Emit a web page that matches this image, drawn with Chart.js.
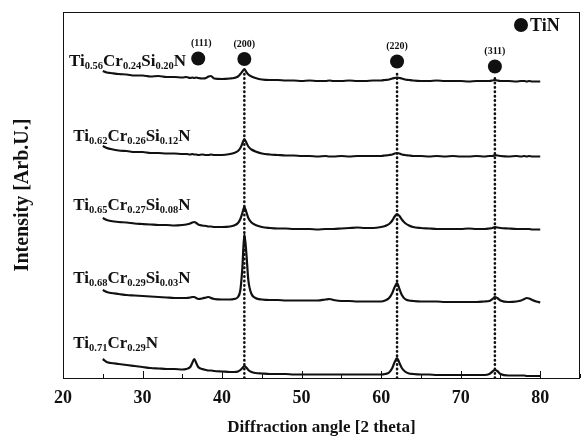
<!DOCTYPE html>
<html>
<head>
<meta charset="utf-8">
<script src="https://cdn.jsdelivr.net/npm/chart.js@4.4.1/dist/chart.umd.min.js"></script>
<style>
  body { margin: 0; background: #fff; }
  #wrap { width: 581px; height: 441px; }
</style>
</head>
<body>
<div id="wrap"><canvas id="xrd" width="581" height="441"></canvas></div>
<script>
// ── Data ───────────────────────────────────────────────────
// 2-theta positions shared by every pattern
const angles = [
  25, 25.5, 26, 27, 28, 29, 30, 31, 32, 33,
  34, 35, 35.5, 36, 36.25, 36.5, 36.75, 37, 37.5, 38,
  38.3, 38.6, 39, 40, 41, 41.5, 42, 42.3, 42.55, 42.8,
  43.05, 43.3, 43.7, 44.2, 45, 46, 47, 48, 49, 50,
  51, 52, 53, 53.5, 54, 55, 56, 57, 58, 59,
  60, 60.5, 61, 61.4, 61.7, 62, 62.3, 62.6, 63, 63.5,
  64, 65, 66, 67, 68, 69, 70, 71, 72, 73,
  73.6, 74, 74.3, 74.6, 75, 76, 77, 77.6, 78, 78.3,
  78.6, 79, 79.5, 80
];

const sampleNames = [
  'Ti0.56Cr0.24Si0.20N',
  'Ti0.62Cr0.26Si0.12N',
  'Ti0.65Cr0.27Si0.08N',
  'Ti0.68Cr0.29Si0.03N',
  'Ti0.71Cr0.29N'
];

// intensities, already stacked (arb. units)
const siO20 = [
  307, 305.5, 305, 304, 303.5, 302.5, 302.5, 301.5, 302, 301,
  301, 300.5, 301, 300, 300.5, 300, 300.5, 300, 299.5, 300,
  301.5, 302, 299.5, 299, 299.5, 300, 301.5, 304, 306.5, 309,
  306, 303.5, 301.5, 300, 298.5, 298, 298, 297.5, 297.5, 297,
  297.5, 297, 297, 297.5, 297, 297, 297.5, 297, 297, 297.5,
  297.5, 298, 298.5, 299.5, 300, 300.5, 300, 299.5, 298.5, 298,
  297.5, 297, 297, 297.5, 297, 297, 297, 296.5, 297, 297,
  297, 297.5, 298, 297.5, 297, 297, 296.5, 297, 297, 296.5,
  297, 296.5, 296.5, 296.5
];
const siO12 = [
  232, 230, 229, 227.5, 227, 226, 226, 225, 225, 224.5,
  224.5, 224, 224, 223.5, 224, 223.5, 223.5, 223, 223.5, 223,
  223, 223.5, 223, 223, 224, 225, 227, 230, 234.5, 239,
  235.5, 231.5, 228.5, 226.5, 224.5, 223.5, 223, 222.5, 222.5, 222,
  222, 221.5, 222, 221.5, 221.5, 222, 221.5, 222, 222, 222,
  222, 222.5, 223, 223.5, 224.5, 225, 224.5, 223.5, 223, 222.5,
  222, 222, 221.5, 222, 221.5, 222, 221.5, 221.5, 222, 221.5,
  222, 222, 223, 222.5, 222, 221.5, 222, 221.5, 222, 221.5,
  222, 221.5, 221.5, 221.5
];
const siO08 = [
  160, 158, 157, 156, 155.5, 154.5, 154, 153.5, 153, 153,
  152.5, 153, 153.5, 154.5, 155.5, 156, 155, 153.5, 152.5, 152,
  151.5, 151.5, 151, 151, 151.5, 152.5, 155, 159, 165, 171,
  166, 160, 155.5, 153, 151, 150, 149.5, 149.5, 149, 149,
  149, 148.5, 149, 149, 149, 149.5, 150, 150.5, 150, 150,
  151, 152, 154, 157.5, 161.5, 164, 162, 158.5, 155, 152.5,
  151, 150, 149.5, 149, 149, 149, 149, 149.5, 149, 149,
  149.5, 150, 151, 150.5, 150, 149.5, 149, 149, 149, 149,
  149, 148.5, 148.5, 148.5
];
const siO03 = [
  88, 86, 85, 84, 83, 82.5, 82, 81.5, 81, 80.5,
  80, 80, 80, 80.5, 81, 81, 80, 79, 79.5, 80.5,
  81, 80, 79, 78.5, 78.5, 79, 81, 88, 110, 144,
  125, 98, 84, 80, 78.5, 78, 78, 77.5, 77.5, 77.5,
  77.5, 77.5, 78.5, 79, 78, 77, 77, 76.5, 76.5, 76.5,
  76.5, 77.5, 80, 85, 91, 95, 89, 83, 79, 77.5,
  77, 76.5, 76.5, 76.5, 76, 76, 76, 76, 76, 76.5,
  77, 79, 81, 80, 77.5, 76, 76.5, 77.5, 79, 80,
  79.5, 78, 76.5, 75.5
];
const siFree = [
  19, 16, 15, 14, 13, 12, 11, 10, 9.5, 9,
  9, 8.5, 9, 11, 15, 19, 15, 11, 9, 8,
  7.5, 7.5, 7, 6.5, 6, 6, 6.5, 8, 10, 12,
  10.5, 8, 6, 5, 4.5, 4, 4, 4, 3.5, 3.5,
  3.5, 3.5, 3.5, 3.5, 3.5, 3.5, 3.5, 3.5, 3.5, 3.5,
  3.5, 4, 5.5, 10, 16, 20, 15, 10, 6.5, 4.5,
  4, 3.5, 3.5, 3, 3, 3, 3, 3, 3, 3,
  4, 6.5, 8, 7, 4, 2.5, 2.5, 2.5, 2.5, 2,
  2, 2, 2, 2
];
const patterns = [siO20, siO12, siO08, siO03, siFree];

// TiN reflections: marker position and top of the dotted guide
const peakLabels = ['(111)', '(200)', '(220)', '(311)'];
const peakAngles = [37.0, 42.8, 62.0, 74.3];
const markerHeights = [319.5, 319, 316.5, 311.5];
const guideTops = [null, 307, 305, 301];

const xTicks = [20, 30, 40, 50, 60, 70, 80];

// where each sample name sits (angle, intensity of text baseline)
const nameAnchors = [[20.75, 312], [21.3, 237], [21.3, 168], [21.3, 95], [21.3, 30]];

// ── Styling ───────────────────────────────────────────────
const SERIF = "'Liberation Serif', 'Times New Roman', serif";
const INK = '#111';

const datasets = patterns.map((vals, i) => ({
  label: sampleNames[i],
  data: angles.map((a, k) => ({ x: a, y: vals[k] })),
  borderColor: INK,
  borderWidth: 2.2,
  pointRadius: 0,
  cubicInterpolationMode: 'monotone',
  fill: false,
}));

peakAngles.forEach((a, i) => {
  if (guideTops[i] === null) return;
  datasets.push({
    label: 'guide' + peakLabels[i],
    data: [{ x: a, y: 0 }, { x: a, y: guideTops[i] }],
    borderColor: INK,
    borderWidth: 2.6,
    borderDash: [0.4, 4.0],
    borderCapStyle: 'round',
    pointRadius: 0,
    fill: false,
  });
});

// frame, inward ticks, TiN markers, texts
const decor = {
  id: 'decor',
  afterDraw(chart) {
    const { ctx, chartArea: ca, scales: { x, y } } = chart;
    ctx.save();
    ctx.strokeStyle = INK;
    ctx.lineWidth = 1;
    ctx.strokeRect(ca.left + 0.5, ca.top + 0.5, ca.right - ca.left - 1, ca.bottom - ca.top);

    // inward ticks on the bottom axis
    x.ticks.forEach(t => {
      const px = Math.round(x.getPixelForValue(t.value)) + 0.5;
      const len = t.value % 10 === 0 ? 7 : 4;
      ctx.beginPath();
      ctx.moveTo(px, ca.bottom);
      ctx.lineTo(px, ca.bottom - len);
      ctx.stroke();
    });

    // TiN markers + hkl labels
    ctx.fillStyle = INK;
    ctx.textAlign = 'center';
    ctx.textBaseline = 'middle';
    ctx.font = 'bold 10px ' + SERIF;
    peakAngles.forEach((a, i) => {
      const px = x.getPixelForValue(a);
      const py = y.getPixelForValue(markerHeights[i]);
      ctx.beginPath();
      ctx.arc(px, py, 7, 0, Math.PI * 2);
      ctx.fill();
      ctx.fillText(peakLabels[i], px + (i === 0 ? 3 : 0), py - 15);
    });

    // sample names with subscripts
    ctx.textAlign = 'left';
    ctx.textBaseline = 'alphabetic';
    sampleNames.forEach((name, i) => {
      let px = x.getPixelForValue(nameAnchors[i][0]);
      const py = y.getPixelForValue(nameAnchors[i][1]);
      name.match(/[A-Za-z]+|[\d.]+/g).forEach(part => {
        const sub = /\d/.test(part);
        ctx.font = sub ? 'bold 10.5px ' + SERIF : 'bold 17px ' + SERIF;
        ctx.fillText(part, px, sub ? py + 3 : py);
        px += ctx.measureText(part).width;
      });
    });

    // legend
    const lx = ca.right - 59, ly = ca.top + 13;
    ctx.beginPath();
    ctx.arc(lx, ly, 7, 0, Math.PI * 2);
    ctx.fill();
    ctx.font = 'bold 18px ' + SERIF;
    ctx.textBaseline = 'middle';
    ctx.fillText('TiN', lx + 9, ly + 1);
    ctx.restore();
  }
};

new Chart(document.getElementById('xrd'), {
  type: 'line',
  data: { datasets },
  plugins: [decor],
  options: {
    responsive: false,
    animation: false,
    layout: { padding: { top: 12, right: 1, left: 0, bottom: 0 } },
    plugins: { legend: { display: false }, tooltip: { enabled: false } },
    scales: {
      x: {
        type: 'linear',
        min: 20,
        max: 85,
        afterFit: s => { s.height = 63; s.paddingLeft = 0; s.paddingRight = 0; },
        grid: { display: false, drawTicks: false },
        border: { display: false },
        ticks: {
          stepSize: 5,
          includeBounds: false,
          autoSkip: false,
          maxRotation: 0,
          padding: 10,
          color: INK,
          font: { family: SERIF, size: 18, weight: 'bold' },
          callback: v => xTicks.includes(v) ? String(v) : '',
        },
        title: {
          display: true,
          text: 'Diffraction angle [2 theta]',
          color: INK,
          font: { family: SERIF, size: 17, weight: 'bold' },
          padding: { top: 0, bottom: 3 },
        },
      },
      y: {
        min: 0,
        max: 366,
        afterFit: s => { s.width = 63; },
        grid: { display: false, drawTicks: false },
        border: { display: false },
        ticks: { display: false },
        title: {
          display: true,
          text: 'Intensity [Arb.U.]',
          color: INK,
          font: { family: SERIF, size: 20, weight: 'bold' },
          padding: { top: 11, bottom: 0 },
        },
      },
    },
  },
});
</script>
</body>
</html>
